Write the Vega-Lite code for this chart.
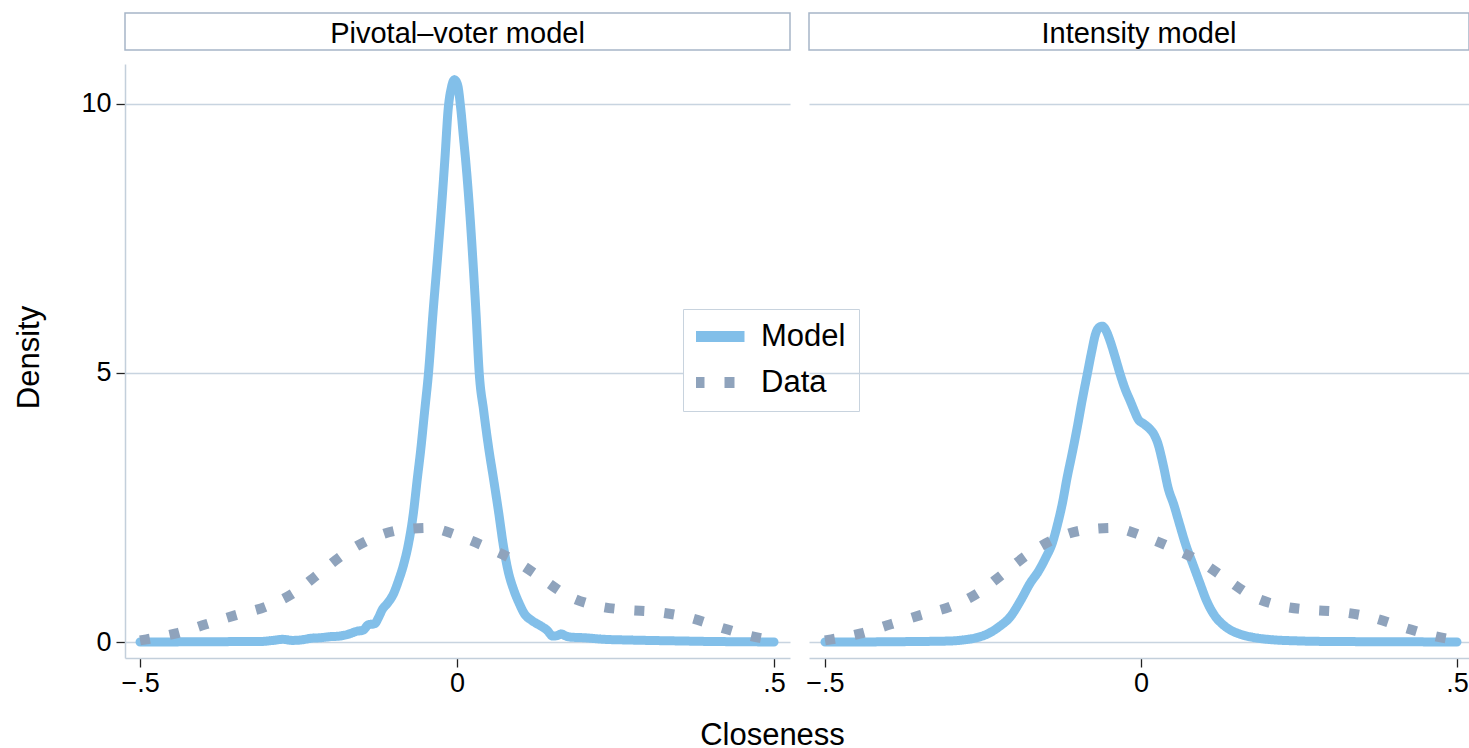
{
  "$schema": "https://vega.github.io/schema/vega-lite/v6.json",
  "padding": {"left": 13, "top": 12, "right": 0, "bottom": 0},
  "background": "white",
  "datasets": {
    "pv": [
      {"series":"Model","x":-0.5,"y":0},{"series":"Model","x":-0.46,"y":0},{"series":"Model","x":-0.42,"y":0.005},{"series":"Model","x":-0.38,"y":0.005},{"series":"Model","x":-0.34,"y":0.01},{"series":"Model","x":-0.31,"y":0.01},{"series":"Model","x":-0.29,"y":0.03},{"series":"Model","x":-0.275,"y":0.05},{"series":"Model","x":-0.26,"y":0.03},{"series":"Model","x":-0.245,"y":0.04},{"series":"Model","x":-0.23,"y":0.07},{"series":"Model","x":-0.215,"y":0.08},{"series":"Model","x":-0.2,"y":0.1},{"series":"Model","x":-0.185,"y":0.11},{"series":"Model","x":-0.17,"y":0.15},{"series":"Model","x":-0.158,"y":0.2},{"series":"Model","x":-0.148,"y":0.22},{"series":"Model","x":-0.14,"y":0.32},{"series":"Model","x":-0.13,"y":0.34},{"series":"Model","x":-0.124,"y":0.45},{"series":"Model","x":-0.118,"y":0.6},{"series":"Model","x":-0.109,"y":0.73},{"series":"Model","x":-0.1,"y":0.9},{"series":"Model","x":-0.092,"y":1.15},{"series":"Model","x":-0.084,"y":1.45},{"series":"Model","x":-0.077,"y":1.8},{"series":"Model","x":-0.069,"y":2.38},{"series":"Model","x":-0.063,"y":3.0},{"series":"Model","x":-0.057,"y":3.6},{"series":"Model","x":-0.051,"y":4.3},{"series":"Model","x":-0.045,"y":5.0},{"series":"Model","x":-0.038,"y":6.1},{"series":"Model","x":-0.031,"y":7.1},{"series":"Model","x":-0.025,"y":8.0},{"series":"Model","x":-0.019,"y":9.0},{"series":"Model","x":-0.014,"y":9.9},{"series":"Model","x":-0.009,"y":10.3},{"series":"Model","x":-0.004,"y":10.45},{"series":"Model","x":0.001,"y":10.35},{"series":"Model","x":0.006,"y":9.9},{"series":"Model","x":0.01,"y":9.4},{"series":"Model","x":0.014,"y":8.9},{"series":"Model","x":0.02,"y":8.0},{"series":"Model","x":0.025,"y":7.1},{"series":"Model","x":0.03,"y":6.1},{"series":"Model","x":0.035,"y":5.0},{"series":"Model","x":0.042,"y":4.3},{"series":"Model","x":0.05,"y":3.6},{"series":"Model","x":0.058,"y":3.0},{"series":"Model","x":0.066,"y":2.38},{"series":"Model","x":0.073,"y":1.8},{"series":"Model","x":0.08,"y":1.35},{"series":"Model","x":0.09,"y":0.95},{"series":"Model","x":0.098,"y":0.72},{"series":"Model","x":0.106,"y":0.53},{"series":"Model","x":0.118,"y":0.4},{"series":"Model","x":0.132,"y":0.3},{"series":"Model","x":0.142,"y":0.22},{"series":"Model","x":0.151,"y":0.11},{"series":"Model","x":0.158,"y":0.12},{"series":"Model","x":0.164,"y":0.15},{"series":"Model","x":0.172,"y":0.11},{"series":"Model","x":0.18,"y":0.09},{"series":"Model","x":0.2,"y":0.08},{"series":"Model","x":0.232,"y":0.05},{"series":"Model","x":0.26,"y":0.04},{"series":"Model","x":0.3,"y":0.03},{"series":"Model","x":0.35,"y":0.02},{"series":"Model","x":0.4,"y":0.01},{"series":"Model","x":0.45,"y":0.005},{"series":"Model","x":0.5,"y":0}
    ],
    "int": [
      {"series":"Model","x":-0.5,"y":0},{"series":"Model","x":-0.45,"y":0},{"series":"Model","x":-0.4,"y":0.005},{"series":"Model","x":-0.35,"y":0.01},{"series":"Model","x":-0.3,"y":0.02},{"series":"Model","x":-0.28,"y":0.04},{"series":"Model","x":-0.26,"y":0.08},{"series":"Model","x":-0.243,"y":0.15},{"series":"Model","x":-0.225,"y":0.28},{"series":"Model","x":-0.206,"y":0.48},{"series":"Model","x":-0.19,"y":0.78},{"series":"Model","x":-0.175,"y":1.1},{"series":"Model","x":-0.163,"y":1.3},{"series":"Model","x":-0.151,"y":1.56},{"series":"Model","x":-0.14,"y":1.85},{"series":"Model","x":-0.132,"y":2.19},{"series":"Model","x":-0.124,"y":2.6},{"series":"Model","x":-0.117,"y":3.05},{"series":"Model","x":-0.109,"y":3.5},{"series":"Model","x":-0.101,"y":3.98},{"series":"Model","x":-0.093,"y":4.5},{"series":"Model","x":-0.085,"y":4.98},{"series":"Model","x":-0.078,"y":5.4},{"series":"Model","x":-0.072,"y":5.72},{"series":"Model","x":-0.066,"y":5.85},{"series":"Model","x":-0.061,"y":5.87},{"series":"Model","x":-0.055,"y":5.78},{"series":"Model","x":-0.049,"y":5.6},{"series":"Model","x":-0.041,"y":5.3},{"series":"Model","x":-0.033,"y":4.98},{"series":"Model","x":-0.025,"y":4.7},{"series":"Model","x":-0.017,"y":4.48},{"series":"Model","x":-0.01,"y":4.28},{"series":"Model","x":-0.005,"y":4.15},{"series":"Model","x":0.005,"y":4.05},{"series":"Model","x":0.014,"y":3.96},{"series":"Model","x":0.021,"y":3.85},{"series":"Model","x":0.027,"y":3.68},{"series":"Model","x":0.035,"y":3.3},{"series":"Model","x":0.043,"y":2.86},{"series":"Model","x":0.052,"y":2.55},{"series":"Model","x":0.061,"y":2.19},{"series":"Model","x":0.071,"y":1.8},{"series":"Model","x":0.082,"y":1.45},{"series":"Model","x":0.093,"y":1.1},{"series":"Model","x":0.104,"y":0.76},{"series":"Model","x":0.116,"y":0.5},{"series":"Model","x":0.129,"y":0.33},{"series":"Model","x":0.142,"y":0.22},{"series":"Model","x":0.156,"y":0.15},{"series":"Model","x":0.18,"y":0.08},{"series":"Model","x":0.2,"y":0.05},{"series":"Model","x":0.25,"y":0.02},{"series":"Model","x":0.3,"y":0.01},{"series":"Model","x":0.4,"y":0.005},{"series":"Model","x":0.5,"y":0}
    ],
    "obs": [
      {"series":"Data","x":-0.5,"y":0.03},{"series":"Data","x":-0.49,"y":0.05},{"series":"Data","x":-0.443,"y":0.16},{"series":"Data","x":-0.396,"y":0.33},{"series":"Data","x":-0.349,"y":0.5},{"series":"Data","x":-0.301,"y":0.66},{"series":"Data","x":-0.258,"y":0.91},{"series":"Data","x":-0.219,"y":1.26},{"series":"Data","x":-0.18,"y":1.62},{"series":"Data","x":-0.139,"y":1.9},{"series":"Data","x":-0.091,"y":2.08},{"series":"Data","x":-0.044,"y":2.12},{"series":"Data","x":0.003,"y":1.97},{"series":"Data","x":0.049,"y":1.75},{"series":"Data","x":0.093,"y":1.5},{"series":"Data","x":0.134,"y":1.18},{"series":"Data","x":0.175,"y":0.86},{"series":"Data","x":0.222,"y":0.67},{"series":"Data","x":0.266,"y":0.6},{"series":"Data","x":0.314,"y":0.56},{"series":"Data","x":0.364,"y":0.46},{"series":"Data","x":0.416,"y":0.27},{"series":"Data","x":0.464,"y":0.11},{"series":"Data","x":0.5,"y":0.03}
    ]
  },
  "columns": 2,
  "spacing": {"row": 14, "column": 19},
  "bounds": "flush",
  "resolve": {
    "scale": {"color": "independent", "strokeDash": "independent"},
    "legend": {"color": "independent", "strokeDash": "independent"}
  },
  "concat": [
    {
      "width": 665,
      "height": 37,
      "view": {"stroke": "#a6b5c7", "strokeWidth": 1.5, "fill": "white"},
      "data": {"values": [{"label": "Pivotal–voter model"}]},
      "mark": {"type": "text", "fontSize": 29, "color": "black", "baseline": "middle", "dy": 2},
      "encoding": {"text": {"field": "label"}}
    },
    {
      "width": 660,
      "height": 37,
      "view": {"stroke": "#a6b5c7", "strokeWidth": 1.5, "fill": "white"},
      "data": {"values": [{"label": "Intensity model"}]},
      "mark": {"type": "text", "fontSize": 29, "color": "black", "baseline": "middle", "dy": 2},
      "encoding": {"text": {"field": "label"}}
    },
    {
      "width": 665,
      "height": 594,
      "layer": [
        {
          "data": {"name": "pv"},
          "mark": {"type": "line", "interpolate": "monotone", "strokeWidth": 9, "strokeCap": "round", "strokeJoin": "round"},
          "encoding": {
            "x": {"field": "x", "type": "quantitative", "scale": {"domain": [-0.5237, 0.5252], "nice": false, "zero": false},
              "axis": {"values": [-0.5, 0, 0.5], "labelExpr": "datum.value < 0 ? '−.5' : (datum.value > 0 ? '.5' : '0')", "grid": false, "title": "Closeness", "titleX": 647, "titleY": 86, "titleAlign": "center", "titleBaseline": "alphabetic", "titleFontSize": 31}},
            "y": {"field": "y", "type": "quantitative", "scale": {"domain": [-0.297, 10.743], "nice": false, "zero": false},
              "axis": {"values": [0, 5, 10], "grid": true, "title": "Density", "titleX": -96, "titleY": 293, "titleAngle": 270, "titleAlign": "center", "titleBaseline": "middle", "titleFontSize": 31}},
            "color": {"field": "series", "type": "nominal", "scale": {"domain": ["Model", "Data"], "range": ["#82bfe9", "#8fa3bc"]},
              "legend": {"title": null, "orient": "none", "legendX": 558, "legendY": 245}},
            "strokeDash": {"field": "series", "type": "nominal", "scale": {"domain": ["Model", "Data"], "range": [[1, 0], [10, 20]]},
              "legend": {"title": null, "orient": "none", "legendX": 558, "legendY": 245}}
          }
        },
        {
          "data": {"name": "obs"},
          "mark": {"type": "line", "interpolate": "monotone", "strokeWidth": 10, "strokeCap": "butt"},
          "encoding": {
            "x": {"field": "x", "type": "quantitative"},
            "y": {"field": "y", "type": "quantitative"},
            "color": {"field": "series", "type": "nominal"},
            "strokeDash": {"field": "series", "type": "nominal"}
          }
        }
      ]
    },
    {
      "width": 660,
      "height": 594,
      "layer": [
        {
          "data": {"name": "int"},
          "mark": {"type": "line", "interpolate": "monotone", "strokeWidth": 9, "strokeCap": "round", "strokeJoin": "round"},
          "encoding": {
            "x": {"field": "x", "type": "quantitative", "scale": {"domain": [-0.5253, 0.519], "nice": false, "zero": false},
              "axis": {"values": [-0.5, 0, 0.5], "labelExpr": "datum.value < 0 ? '−.5' : (datum.value > 0 ? '.5' : '0')", "grid": false, "title": null}},
            "y": {"field": "y", "type": "quantitative", "scale": {"domain": [-0.297, 10.743], "nice": false, "zero": false},
              "axis": {"values": [0, 5, 10], "grid": true, "domain": false, "ticks": false, "labels": false, "title": null}},
            "color": {"field": "series", "type": "nominal", "scale": {"domain": ["Model", "Data"], "range": ["#82bfe9", "#8fa3bc"]}, "legend": null},
            "strokeDash": {"field": "series", "type": "nominal", "scale": {"domain": ["Model", "Data"], "range": [[1, 0], [10, 20]]}, "legend": null}
          }
        },
        {
          "data": {"name": "obs"},
          "mark": {"type": "line", "interpolate": "monotone", "strokeWidth": 10, "strokeCap": "butt"},
          "encoding": {
            "x": {"field": "x", "type": "quantitative"},
            "y": {"field": "y", "type": "quantitative"},
            "color": {"field": "series", "type": "nominal", "legend": null},
            "strokeDash": {"field": "series", "type": "nominal", "legend": null}
          }
        }
      ]
    }
  ],
  "config": {
    "font": "Liberation Sans",
    "view": {"stroke": null},
    "axis": {
      "labelFontSize": 27, "labelColor": "black", "labelFont": "Liberation Sans",
      "titleFontSize": 30, "titleFontWeight": "normal", "titleColor": "black", "titleFont": "Liberation Sans",
      "domainColor": "#c3cfdb", "domainWidth": 1.5,
      "tickColor": "#222222", "tickWidth": 1.3, "tickSize": 9,
      "gridColor": "#c8d4e0", "gridWidth": 1.5,
      "labelPadding": 5
    },
    "axisX": {"labelPadding": 3},
    "legend": {
      "labelFontSize": 31, "labelColor": "black", "labelFont": "Liberation Sans",
      "symbolType": "stroke", "symbolSize": 2500, "symbolStrokeWidth": 11,
      "padding": 13, "rowPadding": 14, "labelOffset": 11, "symbolOffset": -7, "clipHeight": 29,
      "strokeColor": "#c8d3de", "fillColor": "white"
    }
  }
}
